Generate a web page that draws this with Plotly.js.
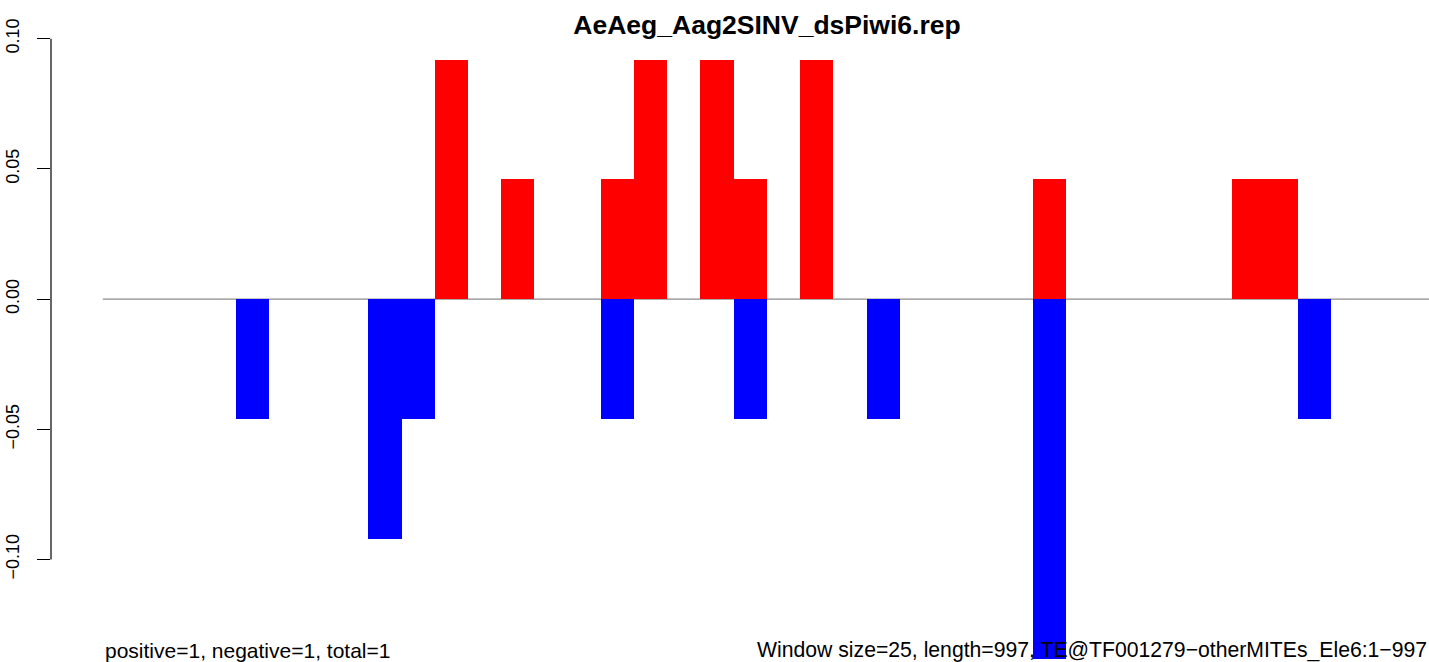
<!DOCTYPE html>
<html>
<head>
<meta charset="utf-8">
<script src="https://cdn.plot.ly/plotly-3.0.1.min.js"></script>
<style>
html,body{margin:0;padding:0;background:#fff;}
#chart{width:1429px;height:662px;}
</style>
</head>
<body>
<div id="chart"></div>
<script>
// ---- data ----
var chartTitle = "AeAeg_Aag2SINV_dsPiwi6.rep";
var leftNote = "positive=1, negative=1, total=1";
var rightNote = "Window size=25, length=997, TE@TF001279\u2212otherMITEs_Ele6:1\u2212997";
// window index (0..39), window size 25 over length 997
var bins = [0,1,2,3,4,5,6,7,8,9,10,11,12,13,14,15,16,17,18,19,20,21,22,23,24,25,26,27,28,29,30,31,32,33,34,35,36,37,38,39];
var positive = [0,0,0,0,0, 0,0,0,0,0, 0.092,0,0.046,0,0, 0.046,0.092,0,0.092,0.046, 0,0.092,0,0,0, 0,0,0,0.046,0, 0,0,0,0,0.046, 0.046,0,0,0,0];
var negative = [0,0,0,0,-0.046, 0,0,0,-0.092,-0.046, 0,0,0,0,0, -0.046,0,0,0,-0.046, 0,0,0,-0.046,0, 0,0,0,-0.138,0, 0,0,0,0,0, 0,-0.046,0,0,0];
var tickVals = [-0.10, -0.05, 0.00, 0.05, 0.10];
var tickText = ["\u22120.10", "\u22120.05", "0.00", "0.05", "0.10"];

var FONT = "Liberation Sans, Arial, Helvetica, sans-serif";

var traces = [
  {type:"bar", x:bins, y:positive, offset:0, width:1,
   marker:{color:"#ff0000", line:{width:0}}, hoverinfo:"skip", showlegend:false},
  {type:"bar", x:bins, y:negative, offset:0, width:1,
   marker:{color:"#0000ff", line:{width:0}}, hoverinfo:"skip", showlegend:false}
];

var layout = {
  width:1429, height:662,
  margin:{l:51, r:0, t:0, b:0, pad:0},
  paper_bgcolor:"#ffffff", plot_bgcolor:"#ffffff",
  barmode:"overlay",
  bargap:0,
  showlegend:false,
  font:{family:FONT, color:"#000000"},
  title:{text:chartTitle, font:{family:FONT, size:26.5, weight:"bold", color:"#000000"},
         xref:"container", yref:"container", x:767/1429, y:1-25/662,
         xanchor:"center", yanchor:"middle"},
  xaxis:{range:[-1.56, 39.94], showgrid:false, zeroline:false, showline:false,
         showticklabels:false, ticks:"", fixedrange:true},
  yaxis:{range:[-0.13934, 0.11487], showgrid:false, zeroline:false, showline:false,
         tickvals:tickVals, ticktext:tickText, ticks:"outside", ticklen:13,
         tickwidth:1, tickcolor:"#000000", tickangle:-90, ticklabelstandoff:11,
         tickfont:{family:FONT, size:18, color:"#000000"}, fixedrange:true},
  shapes:[
    {type:"line", xref:"paper", yref:"y", x0:0, x1:0, y0:tickVals[0], y1:tickVals[tickVals.length-1],
     line:{color:"#000000", width:1.2}, layer:"above"},
    {type:"line", xref:"x", yref:"y", x0:bins[0], x1:bins.length, y0:0, y1:0,
     line:{color:"#8c8c8c", width:1.2}, layer:"below"}
  ],
  annotations:[
    {text:leftNote, xref:"x", yref:"paper", x:bins[0], y:1-650/662, xanchor:"left", yanchor:"middle",
     showarrow:false, font:{family:FONT, size:21, color:"#000000"}},
    {text:rightNote, xref:"paper", yref:"paper", x:1, y:1-650/662, xanchor:"right", yanchor:"middle",
     showarrow:false, font:{family:FONT, size:21.2, color:"#000000"}}
  ]
};

Plotly.newPlot("chart", traces, layout, {staticPlot:true, displayModeBar:false});
</script>
</body>
</html>
